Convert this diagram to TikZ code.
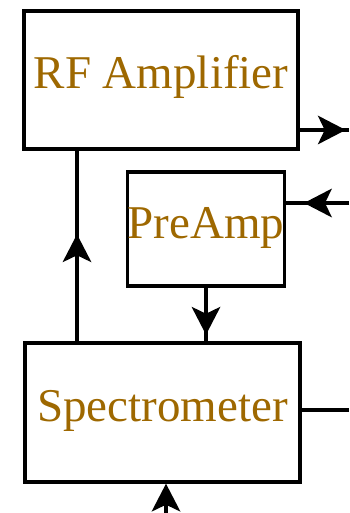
\documentclass[tikz,border=0pt]{standalone}
\usepackage{fontspec}
\setmainfont{Liberation Serif}
\usetikzlibrary{arrows.meta,positioning,decorations.markings}
\definecolor{ink}{RGB}{0,0,0}
\definecolor{labelgold}{RGB}{158,104,0}
\tikzset{
  blk/.style={rectangle,draw=ink,line width=3.4pt,inner sep=0pt,text=labelgold,
    font=\fontsize{47}{50}\selectfont,text height=32pt,text depth=14pt},
  wire/.style={draw=ink,line width=3.4pt},
  >={Stealth[length=28pt,width=29pt,inset=7pt,line width=0pt]},
  midarr/.style={wire,postaction={decorate},
    decoration={markings,mark=at position #1 with {\arrow{>}}}},
}
\begin{document}
\begin{tikzpicture}[x=1pt,y=-1pt]
\useasboundingbox (0,0) rectangle (349,513);
% blocks
\node[blk,minimum width=274pt,minimum height=138pt] (rf) at (161,80) {RF Amplifier};
\node[blk,minimum width=154pt,minimum height=114pt] (pre) at (206,229) {PreAmp};
\node[blk,minimum width=275pt,minimum height=139pt] (spec) at (162.5,412.5) {Spectrometer};
% loose ends at the border
\coordinate (rfout) at (349,130);
\coordinate (prein) at (349,203);
\coordinate (specout) at (349,410);
\coordinate (specin) at (166,513);
\coordinate (fbx) at (77,0);
% connectors
\draw[midarr=46pt] (rf.east |- rfout) -- (rfout);
\draw[midarr=45pt] (prein) -- (pre.east |- prein);
\draw[midarr=107pt] (spec.north -| fbx) -- (rf.south -| fbx);
\draw[midarr=47pt] (pre.south) -- (spec.north -| pre.south);
\draw[wire] (spec.east |- specout) -- (specout);
\draw[wire,->] (specin) -- (spec.south -| specin);
\end{tikzpicture}
\end{document}
